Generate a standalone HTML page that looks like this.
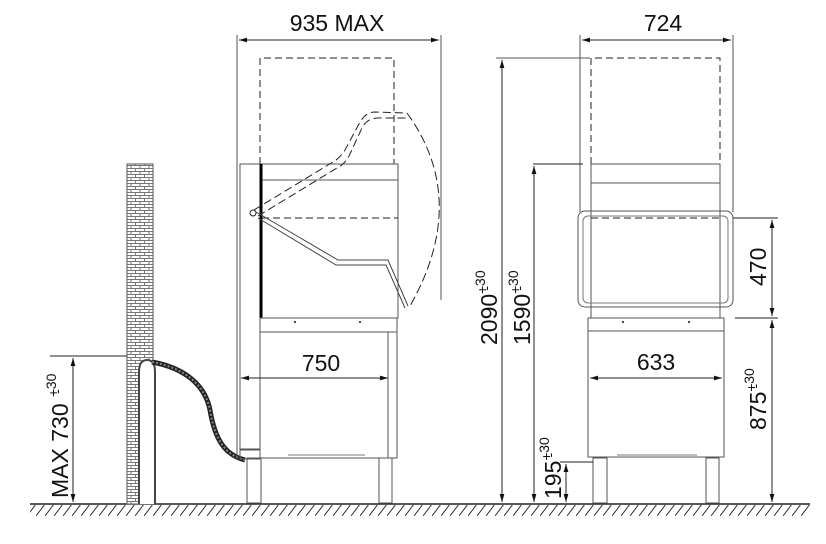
<!DOCTYPE html>
<html><head><meta charset="utf-8"><style>
html,body{margin:0;padding:0;background:#fff}
svg{display:block}
text{font-family:"Liberation Sans",sans-serif;fill:#111}
</style></head><body>
<svg width="826" height="544" viewBox="0 0 826 544" xmlns="http://www.w3.org/2000/svg">
<defs>
<pattern id="brick" width="9" height="6" patternUnits="userSpaceOnUse">
<rect width="9" height="6" fill="#fff"/>
<path d="M0 0.5H9M0 3.5H9M0.5 0.5V3.5M5 3.5V6.5" stroke="#777" stroke-width="1" fill="none"/>
</pattern>
<pattern id="hatch" width="9" height="12" patternUnits="userSpaceOnUse">
<path d="M0 12L9 0" stroke="#333" stroke-width="1"/>
</pattern>
<marker id="a" viewBox="0 0 10 6" refX="10" refY="3" markerWidth="8" markerHeight="5" orient="auto-start-reverse"><path d="M0 0L10 3L0 6z" fill="#111"/></marker>
</defs>
<g stroke="#222" fill="none" stroke-width="1">
<rect x="30" y="505" width="780" height="11" fill="url(#hatch)" stroke="none"/>
<line x1="30" y1="504" x2="810" y2="504" stroke-width="1.5"/>
<rect x="127" y="164" width="26" height="340" fill="url(#brick)" stroke="#555"/>
<path d="M139 504V372Q139 360 147 360Q155 360 155 372V504" fill="#fff" stroke="#444" stroke-width="2"/>
<path d="M152 362C185 368 205 385 210 410C215 440 225 455 245 460" stroke="#222" stroke-width="5"/>
<path d="M152 362C185 368 205 385 210 410C215 440 225 455 245 460" stroke="#888" stroke-width="2" stroke-dasharray="2 2"/>
<line x1="50" y1="356" x2="127" y2="356"/>
<line x1="73" y1="358" x2="73" y2="502" marker-start="url(#a)" marker-end="url(#a)"/>
<line x1="237" y1="35" x2="237" y2="460" stroke="#555"/>
<line x1="441" y1="35" x2="441" y2="300" stroke="#555"/>
<line x1="239" y1="40" x2="439" y2="40" marker-start="url(#a)" marker-end="url(#a)"/>
<path d="M260 164V58H394V164" stroke-dasharray="7 4"/>
<rect x="240" y="164" width="20" height="286" stroke="#555"/>
<rect x="260" y="164" width="138" height="154" stroke="#555"/>
<line x1="260" y1="180" x2="398" y2="180" stroke="#555"/>
<line x1="261" y1="164" x2="261" y2="318" stroke="#000" stroke-width="3"/>
<line x1="262" y1="218" x2="398" y2="218" stroke-dasharray="7 4"/>
<path d="M254 210L333 162Q340 158 345 150L360 122Q366 112 375 112L407 113M258 216L337 168Q345 164 349 156L362 128Q367 118 378 118L407 118" stroke-dasharray="8 4"/>
<path d="M407 113Q470 200 410 306" stroke-dasharray="9 4"/>
<path d="M256 212L338 260L388 260L408 306M258 218L336 265L386 265L405 308" stroke="#444"/>
<circle cx="253" cy="213" r="3" fill="#fff"/>
<rect x="260" y="318" width="137" height="14" stroke="#555"/>
<rect x="260" y="332" width="137" height="126" stroke="#555"/>
<line x1="388" y1="332" x2="388" y2="458" stroke="#555"/>
<rect x="247" y="458" width="14" height="45" stroke="#555"/>
<rect x="379" y="458" width="13" height="45" stroke="#555"/>
<rect x="240" y="449" width="20" height="10" stroke="#555"/>
<line x1="288" y1="455" x2="365" y2="455" stroke="#777"/>
<line x1="241" y1="378" x2="388" y2="378" marker-start="url(#a)" marker-end="url(#a)"/>
<line x1="580" y1="35" x2="580" y2="212" stroke="#555"/>
<line x1="733" y1="35" x2="733" y2="212" stroke="#555"/>
<line x1="582" y1="40" x2="731" y2="40" marker-start="url(#a)" marker-end="url(#a)"/>
<path d="M591 164V58H720V164" stroke-dasharray="7 4"/>
<rect x="591" y="164" width="129" height="154" stroke="#555"/>
<line x1="591" y1="183" x2="720" y2="183" stroke="#555"/>
<line x1="591" y1="218" x2="720" y2="218" stroke-dasharray="7 4"/>
<rect x="578" y="211" width="155" height="96" rx="7" stroke="#555" stroke-width="1"/>
<rect x="583" y="216" width="145" height="87" rx="5" stroke="#777"/>
<rect x="588" y="318" width="136" height="139" stroke="#555"/>
<line x1="588" y1="331" x2="724" y2="331" stroke="#555"/>
<rect x="593" y="458" width="14" height="45" stroke="#555"/>
<rect x="706" y="458" width="13" height="45" stroke="#555"/>
<line x1="617" y1="455" x2="697" y2="455" stroke="#777"/>
<line x1="590" y1="378" x2="722" y2="378" marker-start="url(#a)" marker-end="url(#a)"/>
<line x1="496" y1="58" x2="590" y2="58" stroke="#555"/>
<line x1="502" y1="60" x2="502" y2="502" marker-start="url(#a)" marker-end="url(#a)"/>
<line x1="533" y1="164" x2="583" y2="164"/>
<line x1="534" y1="166" x2="534" y2="502" marker-start="url(#a)" marker-end="url(#a)"/>
<line x1="560" y1="462" x2="593" y2="462"/>
<line x1="566" y1="464" x2="566" y2="502" marker-start="url(#a)" marker-end="url(#a)"/>
<line x1="733" y1="218" x2="778" y2="218"/>
<line x1="735" y1="318" x2="778" y2="318"/>
<line x1="772" y1="220" x2="772" y2="316" marker-start="url(#a)" marker-end="url(#a)"/>
<line x1="772" y1="320" x2="772" y2="502" marker-start="url(#a)" marker-end="url(#a)"/>
</g>
<g fill="#111">
<circle cx="295" cy="322" r="1"/><circle cx="360" cy="322" r="1"/>
<circle cx="623" cy="322" r="1"/><circle cx="689" cy="322" r="1"/>
</g>
<text x="337" y="31" font-size="23" text-anchor="middle">935 MAX</text>
<text x="663" y="31" font-size="23" text-anchor="middle">724</text>
<text x="321" y="371" font-size="23" text-anchor="middle">750</text>
<text x="656" y="370" font-size="23" text-anchor="middle">633</text>
<text transform="translate(497,345) rotate(-90)" font-size="23">2090<tspan font-size="14" dy="-10">+</tspan><tspan font-size="14" dx="-5" dy="4">-</tspan><tspan font-size="14" dy="-6">30</tspan></text>
<text transform="translate(530,345) rotate(-90)" font-size="23">1590<tspan font-size="14" dy="-10">+</tspan><tspan font-size="14" dx="-5" dy="4">-</tspan><tspan font-size="14" dy="-6">30</tspan></text>
<text transform="translate(561,499) rotate(-90)" font-size="23">195<tspan font-size="14" dy="-10">+</tspan><tspan font-size="14" dx="-5" dy="4">-</tspan><tspan font-size="14" dy="-6">30</tspan></text>
<text transform="translate(766,286) rotate(-90)" font-size="23">470</text>
<text transform="translate(766,430) rotate(-90)" font-size="23">875<tspan font-size="14" dy="-10">+</tspan><tspan font-size="14" dx="-5" dy="4">-</tspan><tspan font-size="14" dy="-6">30</tspan></text>
<text transform="translate(68,498) rotate(-90)" font-size="23">MAX 730 <tspan font-size="14" dy="-10">+</tspan><tspan font-size="14" dx="-5" dy="4">-</tspan><tspan font-size="14" dy="-6">30</tspan></text>
</svg>
</body></html>
